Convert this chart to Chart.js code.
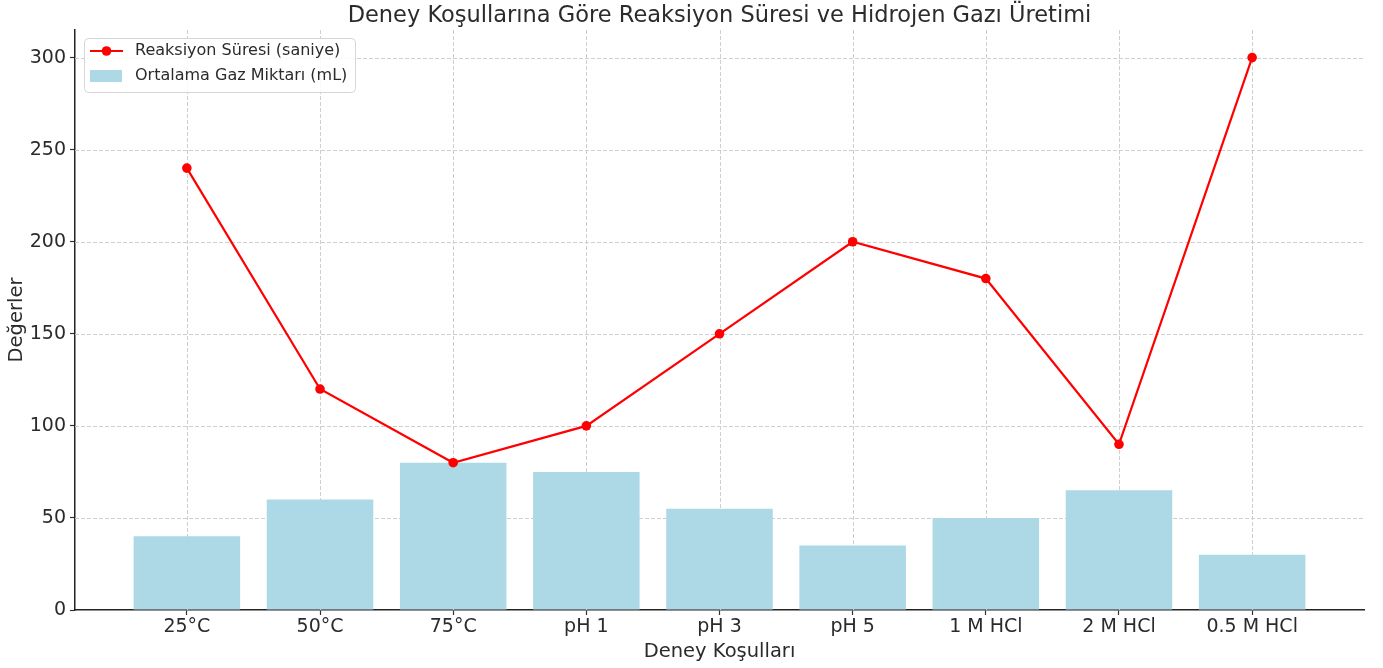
<!DOCTYPE html>
<html>
<head>
<meta charset="utf-8">
<script src="https://cdn.jsdelivr.net/npm/chart.js@4.4.1/dist/chart.umd.min.js"></script>
<style>
  html, body { margin: 0; padding: 0; background: #fff; }
  #wrap { width: 1383px; height: 668px; position: relative; }
</style>
</head>
<body>
<div id="wrap"><canvas id="c" width="1383" height="668"></canvas></div>
<script>
const categories = ['25°C', '50°C', '75°C', 'pH 1', 'pH 3', 'pH 5', '1 M HCl', '2 M HCl', '0.5 M HCl'];
const reactionTime = [240, 120, 80, 100, 150, 200, 180, 90, 300];
const gasAmount = [40, 60, 80, 75, 55, 35, 50, 65, 30];
const yTicks = [0, 50, 100, 150, 200, 250, 300];
const chartTitle = 'Deney Koşullarına Göre Reaksiyon Süresi ve Hidrojen Gazı Üretimi';
const xTitle = 'Deney Koşulları';
const yTitle = 'Değerler';
const lineLabel = 'Reaksiyon Süresi (saniye)';
const barLabel = 'Ortalama Gaz Miktarı (mL)';

const FONT = 'DejaVu Sans';
const TXT = '#2b2b2b';

const gridPlugin = {
  id: 'gridBetween',
  beforeDatasetDraw(chart, args) {
    if (args.index !== 1) return;
    const {ctx, chartArea: a, scales} = chart;
    ctx.save();
    ctx.strokeStyle = '#cfcfcf';
    ctx.lineWidth = 1;
    ctx.setLineDash([4, 2]);
    scales.x.ticks.forEach(t => {
      const px = Math.round(scales.x.getPixelForValue(t.value)) + 0.5;
      ctx.beginPath(); ctx.moveTo(px, a.top); ctx.lineTo(px, a.bottom); ctx.stroke();
    });
    scales.y.ticks.forEach(t => {
      if (t.value === 0) return;
      const py = Math.round(scales.y.getPixelForValue(t.value)) + 0.5;
      ctx.beginPath(); ctx.moveTo(a.left, py); ctx.lineTo(a.right, py); ctx.stroke();
    });
    ctx.restore();
  }
};

const overlayPlugin = {
  id: 'overlay',
  afterDraw(chart) {
    const {ctx, chartArea: a} = chart;
    ctx.save();
    // title
    ctx.fillStyle = TXT;
    ctx.font = '22.5px "' + FONT + '"';
    ctx.textAlign = 'center';
    ctx.textBaseline = 'alphabetic';
    ctx.fillText(chartTitle, (a.left + a.right) / 2, 21.5);
    ctx.textBaseline = 'middle';
    // legend
    const lx = a.left + 9, ly = a.top + 8, lw = 271, lh = 54;
    ctx.beginPath();
    ctx.roundRect(lx + 0.5, ly + 0.5, lw, lh, 4);
    ctx.fillStyle = 'rgba(255,255,255,0.85)';
    ctx.fill();
    ctx.strokeStyle = '#d6d6d6';
    ctx.lineWidth = 1;
    ctx.stroke();
    const ds = chart.data.datasets;
    // line sample
    const r1 = ly + 13;
    ctx.strokeStyle = ds[0].borderColor;
    ctx.lineWidth = 2.2;
    ctx.beginPath(); ctx.moveTo(lx + 6, r1); ctx.lineTo(lx + 39, r1); ctx.stroke();
    ctx.fillStyle = ds[0].borderColor;
    ctx.beginPath(); ctx.arc(lx + 22.5, r1, 4.8, 0, Math.PI * 2); ctx.fill();
    // bar sample
    const r2 = ly + 38;
    ctx.fillStyle = ds[1].backgroundColor;
    ctx.fillRect(lx + 6, r2 - 6, 32, 12);
    ctx.fillStyle = TXT;
    ctx.font = '16px "' + FONT + '"';
    ctx.textAlign = 'left';
    ctx.fillText(ds[0].label, lx + 51, r1);
    ctx.fillText(ds[1].label, lx + 51, r2);
    ctx.restore();
  }
};

new Chart(document.getElementById('c'), {
  type: 'bar',
  data: {
    datasets: [
      {
        type: 'line',
        label: lineLabel,
        data: reactionTime.map((v, i) => ({x: i, y: v})),
        borderColor: '#ff0000',
        backgroundColor: '#ff0000',
        borderWidth: 2.2,
        pointRadius: 4.8,
        pointHoverRadius: 4.8,
        pointBackgroundColor: '#ff0000',
        pointBorderWidth: 0,
        tension: 0,
        order: 0
      },
      {
        type: 'bar',
        label: barLabel,
        data: gasAmount.map((v, i) => ({x: i, y: v})),
        backgroundColor: '#add8e6',
        borderWidth: 0,
        categoryPercentage: 0.8,
        barPercentage: 1.0,
        order: 1
      }
    ]
  },
  options: {
    responsive: false,
    animation: false,
    events: [],
    layout: { padding: { top: 30, right: 19, left: 0, bottom: 0 } },
    plugins: {
      legend: { display: false },
      title: { display: false },
      tooltip: { enabled: false }
    },
    scales: {
      x: {
        type: 'linear',
        offset: false,
        min: -0.84,
        max: 8.84,
        afterBuildTicks(scale) { scale.ticks = categories.map((c, i) => ({value: i})); },
        afterFit(scale) { scale.height = 58; },
        ticks: {
          autoSkip: false,
          maxRotation: 0,
          color: TXT,
          font: { family: FONT, size: 19 },
          padding: 1,
          callback: (v) => categories[v]
        },
        grid: { offset: false, drawOnChartArea: false, drawTicks: true, tickLength: 5, tickColor: '#333', tickWidth: 1.2 },
        border: { display: true, color: '#222', width: 1.5 },
        title: { display: true, text: xTitle, color: TXT, font: { family: FONT, size: 19.5 }, padding: { top: 0, bottom: 4 } }
      },
      y: {
        min: 0,
        max: 315,
        afterBuildTicks(scale) { scale.ticks = yTicks.map(v => ({value: v})); },
        afterFit(scale) { scale.width = 75; },
        ticks: {
          color: TXT,
          font: { family: FONT, size: 19 },
          padding: 4
        },
        grid: { drawOnChartArea: false, drawTicks: true, tickLength: 5, tickColor: '#333', tickWidth: 1.2 },
        border: { display: true, color: '#222', width: 1.5 },
        title: { display: true, text: yTitle, color: TXT, font: { family: FONT, size: 19.5 }, padding: { top: 5, bottom: 0 } }
      }
    }
  },
  plugins: [gridPlugin, overlayPlugin]
});
</script>
</body>
</html>
